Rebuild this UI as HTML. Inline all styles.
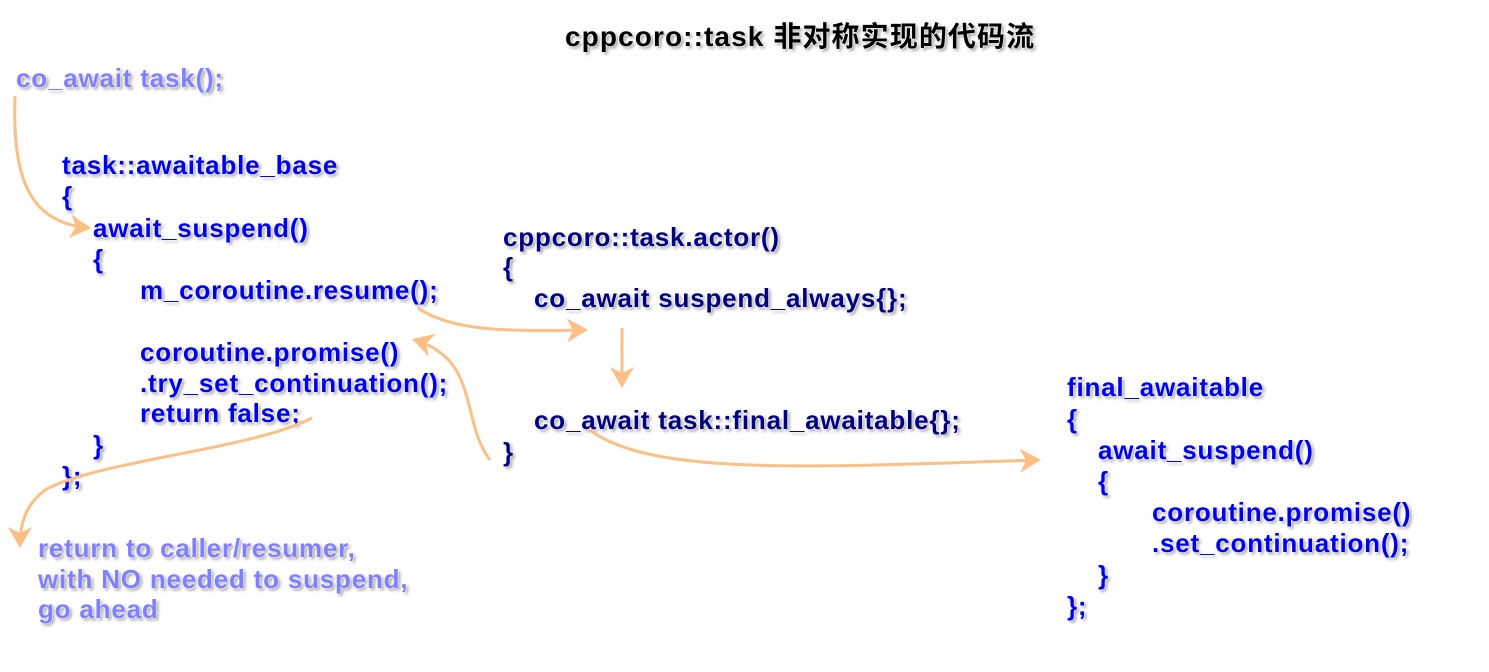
<!DOCTYPE html>
<html><head><meta charset="utf-8"><style>
body{margin:0;width:1489px;height:672px;background:#fff;position:relative;overflow:hidden;font-family:"Liberation Sans","Noto Sans CJK SC",sans-serif;font-weight:bold}
.t{position:absolute;font-size:26px;letter-spacing:0.8px;line-height:28px;white-space:pre;text-shadow:0 0 2px #fff,0 0 2px #fff,2px 2px 3px rgba(0,0,0,.45)}
.b{color:#0000ee}.n{color:#000080}.p{color:#8080ff}
svg{position:absolute;left:0;top:0}
</style></head><body>
<div class="t" style="left:565px;top:23px;font-size:28px;letter-spacing:1.1px;color:#000">cppcoro::task 非对称实现的代码流</div>
<div class="t p" style="left:16px;top:64px">co_await task();</div>
<div class="t b" style="left:62px;top:151px">task::awaitable_base</div>
<div class="t b" style="left:62px;top:182px">{</div>
<div class="t b" style="left:93px;top:214px">await_suspend()</div>
<div class="t b" style="left:93px;top:245px">{</div>
<div class="t b" style="left:140px;top:276px">m_coroutine.resume();</div>
<div class="t b" style="left:140px;top:338px">coroutine.promise()</div>
<div class="t b" style="left:140px;top:369px">.try_set_continuation();</div>
<div class="t b" style="left:140px;top:399px">return false;</div>
<div class="t b" style="left:93px;top:431px">}</div>
<div class="t b" style="left:62px;top:462px">};</div>
<div class="t p" style="left:38px;top:534px">return to caller/resumer,</div>
<div class="t p" style="left:38px;top:565px">with NO needed to suspend,</div>
<div class="t p" style="left:38px;top:595px">go ahead</div>
<div class="t n" style="left:503px;top:223px">cppcoro::task.actor()</div>
<div class="t n" style="left:503px;top:253px">{</div>
<div class="t n" style="left:534px;top:284px">co_await suspend_always{};</div>
<div class="t n" style="left:534px;top:406px">co_await task::final_awaitable{};</div>
<div class="t n" style="left:503px;top:438px">}</div>
<div class="t b" style="left:1067px;top:373px">final_awaitable</div>
<div class="t b" style="left:1067px;top:405px">{</div>
<div class="t b" style="left:1098px;top:436px">await_suspend()</div>
<div class="t b" style="left:1098px;top:467px">{</div>
<div class="t b" style="left:1152px;top:498px">coroutine.promise()</div>
<div class="t b" style="left:1152px;top:529px">.set_continuation();</div>
<div class="t b" style="left:1098px;top:561px">}</div>
<div class="t b" style="left:1067px;top:592px">};</div>
<svg width="1489" height="672"><defs><marker id="a" markerWidth="8" markerHeight="8" refX="6" refY="4" orient="auto" markerUnits="strokeWidth"><path d="M0,0L7,4L0,8L2,4z" fill="#fcbf84"/></marker></defs>
<g fill="none" stroke="#fcbf84" stroke-width="3" marker-end="url(#a)">
<path d="M15,96 C12,180 30,222 88,228"/>
<path d="M418,308 C450,330 500,332 585,330"/>
<path d="M622,328 L622,385"/>
<path d="M490,460 C460,420 480,360 415,340"/>
<path d="M312,418 C250,450 100,460 45,490 C25,505 20,525 20,545"/>
<path d="M590,430 C650,475 800,468 1038,460"/>
</g></svg>
</body></html>
